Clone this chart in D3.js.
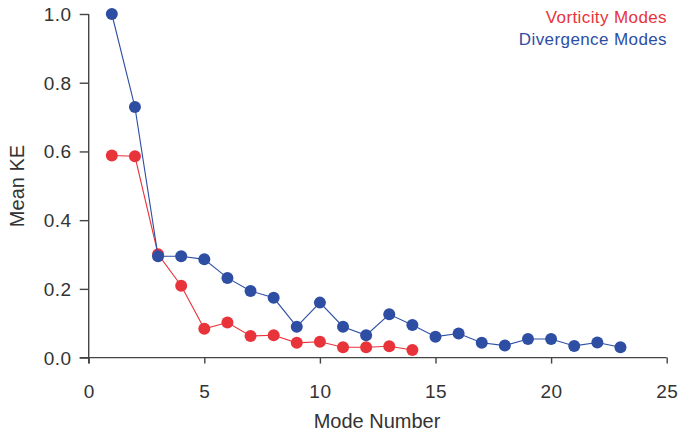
<!DOCTYPE html>
<html><head><meta charset="utf-8">
<script src="https://cdn.jsdelivr.net/npm/d3@7"></script>
<style>body{margin:0;background:#fff}svg text{font-family:"Liberation Sans",Arial,sans-serif}</style>
</head><body><svg id="c" width="680" height="431"></svg>
<script>
const modes = d3.range(1, 24);
const vorticity = [0.588,0.586,0.301,0.209,0.084,0.102,0.063,0.065,0.043,0.046,0.030,0.030,0.033,0.022];
const divergence = [1.0,0.729,0.295,0.295,0.286,0.232,0.194,0.174,0.090,0.160,0.090,0.065,0.126,0.095,0.061,0.070,0.043,0.035,0.054,0.054,0.034,0.044,0.030];
const xTicks = [0,5,10,15,20,25];
const yTicks = [0.0,0.2,0.4,0.6,0.8,1.0];
const seriesNames = ["Vorticity Modes","Divergence Modes"];
const colors = ["#e8333a","#2d4ea3"];

const svg = d3.select("#c");
const x = d3.scaleLinear().domain([0,25]).range([88.7,666.7]);
const y = d3.scaleLinear().domain([0,1]).range([357.6,14]);
const axisColor = "#444";

const gx = svg.append("g").attr("transform","translate(0,357.6)")
  .call(d3.axisBottom(x).tickValues(xTicks).tickSize(6).tickSizeOuter(0).tickPadding(22).tickFormat(d3.format("d")));
const gy = svg.append("g").attr("transform","translate(88.7,0)")
  .call(d3.axisLeft(y).tickValues(yTicks).tickSize(9).tickSizeOuter(0).tickPadding(8).tickFormat(d3.format(".1f")));
[gx,gy].forEach(g=>{
  g.select(".domain").attr("stroke",axisColor).attr("stroke-width",1.4);
  g.selectAll(".tick line").attr("stroke",axisColor).attr("stroke-width",1.4);
  g.selectAll(".tick text").attr("fill","#333").attr("font-size",19).attr("letter-spacing","0.5px")
    .attr("font-family","Liberation Sans, Arial, sans-serif");
});
gx.selectAll(".tick text").attr("dy","0.66em");
gy.selectAll(".tick text").attr("dy","0.34em");
gy.select(".domain").attr("d",`M0,${y(1)}V${y(0)+6}`);
gx.select(".domain").attr("d",`M${x(0)-9},0H${x(25)}`);

svg.append("text").attr("x",377).attr("y",428).attr("text-anchor","middle")
  .attr("font-size",20).attr("fill","#333").text("Mode Number");
svg.append("text").attr("transform","translate(24,186) rotate(-90)").attr("text-anchor","middle")
  .attr("font-size",20).attr("fill","#333").text("Mean KE");

const data = [vorticity, divergence];
const line = d3.line().x((d,i)=>x(modes[i])).y(d=>y(d));
data.forEach((vals,k)=>{
  const g = svg.append("g");
  g.append("path").attr("d",line(vals)).attr("fill","none").attr("stroke",colors[k]).attr("stroke-width",1.1);
  g.selectAll("circle").data(vals).join("circle")
    .attr("cx",(d,i)=>x(modes[i])).attr("cy",d=>y(d)).attr("r",6).attr("fill",colors[k]);
});

seriesNames.forEach((n,k)=>{
  svg.append("text").attr("x",667).attr("y",23+k*22).attr("text-anchor","end")
    .attr("font-size",17).attr("letter-spacing","0.4px").attr("fill",colors[k]).text(n);
});
</script></body></html>
